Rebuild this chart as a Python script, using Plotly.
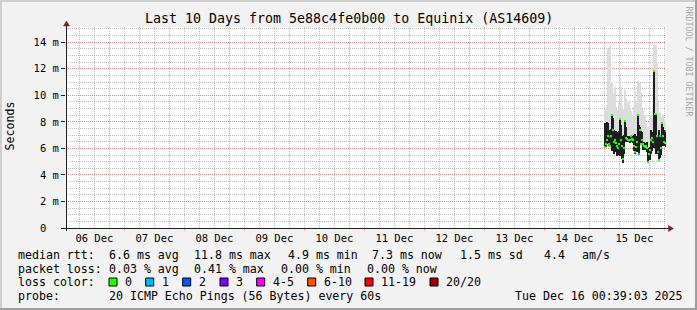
import plotly.graph_objects as go
import pandas as pd

# ---------------- data ----------------
t_start = "2025-12-06 00:39:03"
t_end = "2025-12-16 00:39:03"
smoke_start = "2025-12-15 00:00:00"
step_minutes = 24

# smoke (ms): top of the grey smoke, top/bottom of the dense dark band, median
smoke_top = [8.9, 8.0, 9.3, 13.5, 10.5, 13.7, 10.0, 11.0, 10.2, 9.5,
             10.6, 9.0, 8.9, 8.5, 9.4, 11.3, 10.6, 9.2, 8.4, 9.0,
             10.4, 9.8, 9.4, 9.0, 9.6, 8.9, 8.8, 8.5, 8.4, 9.2,
             10.3, 9.4, 8.6, 11.1, 10.0, 10.9, 10.2, 9.0, 8.8, 8.3,
             8.5, 7.9, 7.5, 7.6, 7.4, 7.8, 8.5, 8.3, 9.2, 13.8,
             13.5, 13.8, 12.4, 9.5, 8.6, 8.7, 8.0, 8.4, 8.5, 8.2,
             8.0, 7.6]
smoke_hi = [7.9, 7.7, 8.0, 7.9, 7.4, 7.2, 7.5, 8.5, 8.3, 7.4,
            7.0, 7.3, 7.2, 7.0, 7.3, 8.3, 7.8, 6.9, 6.6, 7.0,
            8.1, 7.6, 6.9, 6.9, 6.8, 6.9, 7.0, 6.9, 6.9, 7.0,
            7.1, 6.8, 6.9, 8.5, 7.8, 7.6, 7.3, 7.2, 6.4, 6.5,
            6.3, 6.4, 6.5, 5.9, 6.0, 6.1, 7.4, 7.0, 7.2, 11.8,
            8.7, 8.6, 7.0, 6.5, 7.4, 6.9, 6.8, 7.9, 7.6, 7.0,
            7.4, 7.4]
smoke_lo = [6.0, 6.1, 6.3, 6.3, 6.2, 6.1, 6.4, 5.8, 6.0, 5.6,
            5.7, 5.8, 5.4, 5.5, 5.6, 5.4, 5.9, 5.2, 4.9, 5.6,
            6.5, 6.5, 6.5, 6.5, 6.5, 6.4, 6.5, 6.5, 6.4, 5.8,
            5.6, 5.7, 6.2, 5.7, 5.5, 6.3, 6.3, 6.4, 5.9, 5.9,
            5.9, 6.0, 5.7, 5.0, 5.2, 5.1, 5.6, 5.8, 6.0, 6.2,
            6.0, 5.6, 5.8, 5.6, 5.2, 5.3, 5.5, 6.3, 6.2, 6.3,
            6.2, 6.1]
median = [6.1, 6.3, 6.6, 6.9, 6.3, 6.2, 6.9, 8.5, 7.4, 6.5,
          6.6, 6.4, 6.2, 6.0, 6.3, 8.2, 6.6, 6.2, 5.2, 6.0,
          8.1, 6.8, 6.7, 6.6, 6.6, 6.6, 6.9, 6.7, 6.6, 6.2,
          5.7, 6.1, 6.5, 8.5, 5.6, 7.4, 6.3, 6.6, 6.3, 6.2,
          6.1, 6.2, 6.0, 5.0, 5.6, 5.9, 6.6, 6.8, 6.5, 11.8,
          8.6, 8.6, 6.9, 5.7, 5.1, 6.9, 6.0, 7.9, 6.9, 6.5,
          6.4, 7.3]
loss_level = [0, 0, 0, 0, 0, 0, 0, 0, 0, 0,
              0, 0, 0, 0, 0, 0, 0, 0, 0, 0,
              0, 0, 0, 0, 0, 0, 0, 0, 0, 0,
              0, 0, 0, 0, 1, 0, 0, 0, 0, 0,
              0, 0, 0, 0, 0, 0, 0, 0, 0, 0,
              0, 0, 0, 1, 0, 1, 0, 0, 0, 0,
              0, 1]

y_tickvals = [0, 2, 4, 6, 8, 10, 12, 14]
y_ticktext = ["0\u00a0\u00a0", "2 m", "4 m", "6 m", "8 m", "10 m", "12 m", "14 m"]

title_text = "Last 10 Days from 5e88c4fe0b00 to Equinix (AS14609)"
rtt_values = [6.6, 11.8, 4.9, 7.3, 1.5]
rtt_names = ["avg", "max", "min", "now", "sd"]
am_s = 4.4
loss_values = [0.03, 0.41, 0.00, 0.00]
loss_names = ["avg", "max", "min", "now"]
loss_color_names = ["0", "1", "2", "3", "4-5", "6-10", "11-19", "20/20"]
loss_colors = ["#26ff00", "#00b8ff", "#0059ff", "#7e00ff", "#ff00ff", "#ff5500", "#ff0000", "#a10000"]
probe_text = "20 ICMP Echo Pings (56 Bytes) every 60s"
stamp_text = "Tue Dec 16 00:39:03 2025"

# ---------------- layout geometry ----------------
W, H = 697, 310
L, R, T, B = 66, 31, 27, 82
PW, PH = W - L - R, H - T - B


def px(x):
    return (x - L) / PW


def py(y):
    return (H - B - y) / PH


MONO = "DejaVu Sans Mono"
BACK = "#f2f2f2"
SHADEA = "#cfcfcf"
SHADEB = "#9e9e9e"
GRID = "rgba(143,143,143,0.6)"
MGRID = "rgba(222,79,79,0.45)"
ARROW = "#801f1f"
AXIS = "#1f1f1f"

n = len(median)
times = pd.date_range(smoke_start, periods=n, freq=f"{step_minutes}min")
centers = times + pd.Timedelta(minutes=step_minutes / 2)
one_px = step_minutes * 60 * 1000

fig = go.Figure()
fig.add_trace(go.Bar(
    x=centers, base=smoke_hi, y=[t - h for t, h in zip(smoke_top, smoke_hi)],
    width=one_px * 0.9, marker=dict(color="#dcdcdc", line=dict(width=0)), hoverinfo="skip"))
fig.add_trace(go.Bar(
    x=centers, base=smoke_lo, y=[h - l for h, l in zip(smoke_hi, smoke_lo)],
    width=one_px * 1.05, marker=dict(color="#1e1e1e", line=dict(width=0)), hoverinfo="skip"))
fig.add_trace(go.Bar(
    x=centers, base=[m - 0.04 for m in median], y=[0.08] * n,
    width=one_px, marker=dict(color=[loss_colors[k] for k in loss_level], line=dict(width=0)),
    hoverinfo="skip"))

annotations = []


def text(x, y, s, size=11.6, color="#000000", xanchor="left", angle=0):
    annotations.append(dict(
        x=px(x), y=py(y), xref="paper", yref="paper", text=s, showarrow=False,
        xanchor=xanchor, yanchor="middle", textangle=angle,
        font=dict(family=MONO, size=size, color=color)))


text(348.5, 18, title_text, size=13.3, xanchor="center")
text(9.5, 126, "Seconds", size=11.6, xanchor="center", angle=-90)
text(688.5, 61, "RRDTOOL / TOBI OETIKER", size=8.3, color="#a8a8a8", xanchor="center", angle=90)

row_y = [255, 268.5, 282, 295.7]
# row 1: median rtt
text(16, row_y[0], "median rtt:")
rtt_x = [107, 192, 285.5, 370, 458]
for xv, v, nm in zip(rtt_x, rtt_values, rtt_names):
    text(xv, row_y[0], f"{v:.1f} ms {nm}")
text(541.5, row_y[0], f"{am_s:.1f}")
text(580, row_y[0], "am/s")
# row 2: packet loss
text(16, row_y[1], "packet loss:")
loss_x = [107, 192, 279, 365]
for xv, v, nm in zip(loss_x, loss_values, loss_names):
    text(xv, row_y[1], f"{v:.2f} % {nm}")
# row 3: loss color
text(16, row_y[2], "loss color:")
box_x = [109, 145.7, 182.7, 220, 256.7, 307.7, 365, 430]
shapes = []
for xv, nm, col in zip(box_x, loss_color_names, loss_colors):
    shapes.append(dict(type="rect", xref="paper", yref="paper",
                       x0=px(xv), x1=px(xv + 8), y0=py(278), y1=py(286),
                       fillcolor=col, line=dict(color="#000000", width=1)))
    text(xv + 14, row_y[2], nm)
# row 4: probe
text(16, row_y[3], "probe:")
text(107, row_y[3], probe_text)
text(513, row_y[3], stamp_text)

# frame bevel
shapes += [
    dict(type="rect", xref="paper", yref="paper", x0=px(0), x1=px(W), y0=py(0), y1=py(2),
         fillcolor=SHADEA, line=dict(width=0), layer="above"),
    dict(type="rect", xref="paper", yref="paper", x0=px(0), x1=px(2), y0=py(0), y1=py(H),
         fillcolor=SHADEA, line=dict(width=0), layer="above"),
    dict(type="rect", xref="paper", yref="paper", x0=px(0), x1=px(W), y0=py(H - 2), y1=py(H),
         fillcolor=SHADEB, line=dict(width=0), layer="above"),
    dict(type="rect", xref="paper", yref="paper", x0=px(W - 2), x1=px(W), y0=py(0), y1=py(H),
         fillcolor=SHADEB, line=dict(width=0), layer="above"),
]
# axes lines and arrows
shapes += [
    dict(type="line", xref="paper", yref="paper", x0=px(66.5), x1=px(66.5), y0=py(231), y1=py(24),
         line=dict(color=AXIS, width=1), layer="above"),
    dict(type="line", xref="paper", yref="paper", x0=px(62), x1=px(670), y0=py(228.5), y1=py(228.5),
         line=dict(color=AXIS, width=1), layer="above"),
    dict(type="path", xref="paper", yref="paper",
         path=f"M {px(66.5)} {py(21)} L {px(63.5)} {py(26)} L {px(69.5)} {py(26)} Z",
         fillcolor=ARROW, line=dict(color=ARROW, width=0.5), layer="above"),
    dict(type="path", xref="paper", yref="paper",
         path=f"M {px(673.5)} {py(228.5)} L {px(668.5)} {py(225.5)} L {px(668.5)} {py(231.5)} Z",
         fillcolor=ARROW, line=dict(color=ARROW, width=0.5), layer="above"),
]

fig.update_layout(
    width=W, height=H, margin=dict(l=L, r=R, t=T, b=B, pad=0),
    paper_bgcolor=BACK, plot_bgcolor="#ffffff",
    barmode="overlay", bargap=0, showlegend=False, hovermode=False,
    annotations=annotations, shapes=shapes,
    xaxis=dict(
        type="date", range=[t_start, t_end], tick0="2025-12-06 00:00:00", dtick=86400000,
        ticklabelmode="period", tickformat="%d %b",
        tickfont=dict(family=MONO, size=10.5, color="#000000"),
        ticks="outside", ticklen=2, tickcolor=MGRID, ticklabelstandoff=-2,
        showgrid=True, gridcolor=MGRID, griddash="1px,1px", gridwidth=1,
        minor=dict(dtick=21600000, tick0="2025-12-06 00:00:00", showgrid=True,
                   gridcolor=GRID, griddash="1px,1px", ticklen=0),
        showline=False, zeroline=False, fixedrange=True),
    yaxis=dict(
        range=[0, 15.15], tickmode="array", tickvals=y_tickvals, ticktext=y_ticktext,
        tickfont=dict(family=MONO, size=10.5, color="#000000"),
        ticks="outside", ticklen=4, tickcolor=AXIS,
        showgrid=True, gridcolor=MGRID, griddash="1px,1px", gridwidth=1,
        minor=dict(dtick=0.5, tick0=0, showgrid=True, gridcolor=GRID, griddash="1px,1px", ticklen=0),
        showline=False, zeroline=False, fixedrange=True),
)

fig.write_html("out.html")
